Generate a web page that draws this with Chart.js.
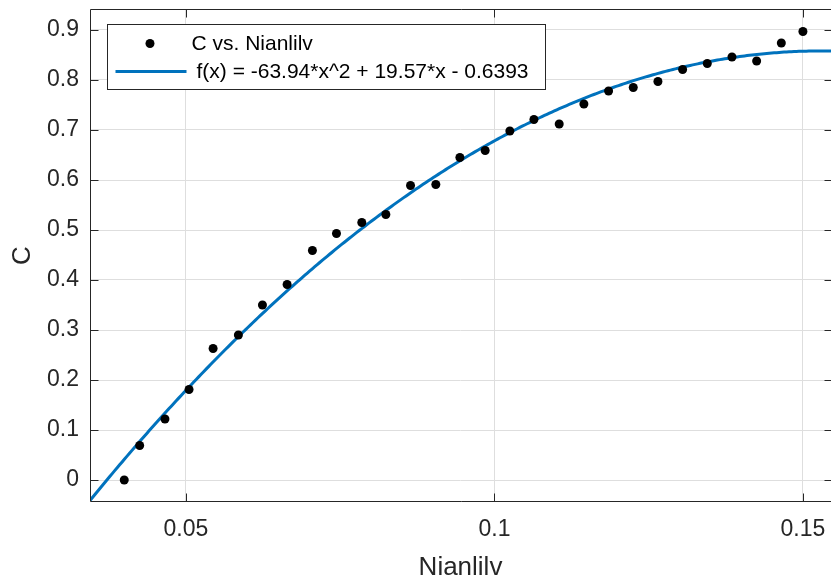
<!DOCTYPE html>
<html>
<head>
<meta charset="utf-8">
<title>C vs. Nianlilv</title>
<script src="https://cdn.jsdelivr.net/npm/chart.js@4/dist/chart.umd.min.js"></script>
<style>
  html, body { margin: 0; padding: 0; background: #fff; }
  #wrap { position: relative; width: 831px; height: 576px; }
</style>
</head>
<body>
<div id="wrap"><canvas id="fit"></canvas></div>
<script>
// measured points
var nianlilv = [0.0400, 0.0425, 0.0466, 0.0505, 0.0544, 0.0585, 0.0624, 0.0664, 0.0705,
                0.0744, 0.0785, 0.0824, 0.0864, 0.0905, 0.0944, 0.0985, 0.1025, 0.1064,
                0.1105, 0.1145, 0.1185, 0.1225, 0.1265, 0.1305, 0.1345, 0.1385, 0.1425,
                0.1465, 0.1500];
var cValues  = [0.000, 0.069, 0.122, 0.181, 0.263, 0.290, 0.350, 0.391, 0.459,
                0.493, 0.515, 0.531, 0.589, 0.591, 0.645, 0.659, 0.698, 0.721,
                0.712, 0.752, 0.778, 0.785, 0.797, 0.821, 0.833, 0.846, 0.838,
                0.874, 0.897];

// quadratic fit coefficients p1*x^2 + p2*x + p3
var fitCoef = [-63.94, 19.57, -0.6393];

// axis limits and ticks
var xLimits = [0.03445, 0.15455];
var yLimits = [-0.044, 0.942];
var xTicks = [0.05, 0.1, 0.15];
var xTickLabels = ['0.05', '0.1', '0.15'];
var yTicks = [0, 0.1, 0.2, 0.3, 0.4, 0.5, 0.6, 0.7, 0.8, 0.9];
var yTickLabels = ['0', '0.1', '0.2', '0.3', '0.4', '0.5', '0.6', '0.7', '0.8', '0.9'];

var pointLabel = 'C vs. Nianlilv';
var fitLabel = 'f(x) = -63.94*x^2 + 19.57*x - 0.6393';

var FONT = '"Liberation Sans", Arial, Helvetica, sans-serif';
var AXIS_COLOR = '#262626';
var BLUE = '#0072bd';

function evalFit(x){
    return fitCoef[0]*x*x + fitCoef[1]*x + fitCoef[2];
}

// sample the fitted curve across the x range
function fitCurve(n){
    var pts = [];
    for (var i = 0; i <= n; i++){
        var x = xLimits[0] + (xLimits[1] - xLimits[0]) * i / n;
        pts.push({x: x, y: evalFit(x)});
    }
    return pts;
}

function pointData(){
    var pts = [];
    for (var i = 0; i < nianlilv.length; i++){
        pts.push({x: nianlilv[i], y: cValues[i]});
    }
    return pts;
}

// no extra room for labels hanging over the plot edges
function noOverhang(scale){
    scale.paddingLeft = 0;
    scale.paddingRight = 0;
    scale.paddingTop = 0;
    scale.paddingBottom = 0;
}

// box around the axes with inward tick marks
var axesBox = {
    id: 'axesBox',
    afterDatasetsDraw: function(chart){
        var ctx = chart.ctx, a = chart.chartArea;
        var xs = chart.scales.x, ys = chart.scales.y;
        var len = 8;
        ctx.save();
        ctx.strokeStyle = AXIS_COLOR;
        ctx.lineWidth = 1;
        ctx.beginPath();
        var L = Math.round(a.left) + 0.5, B = Math.round(a.bottom) - 0.5;
        var T = Math.round(a.top) + 0.5, R = Math.round(a.right) + 1.5;
        ctx.moveTo(L, T); ctx.lineTo(L, B); ctx.lineTo(R, B);
        ctx.moveTo(L, T); ctx.lineTo(R, T);
        xTicks.forEach(function(v){
            var px = Math.round(xs.getPixelForValue(v)) + 0.5;
            ctx.moveTo(px, B); ctx.lineTo(px, B - len);
            ctx.moveTo(px, T); ctx.lineTo(px, T + len);
        });
        yTicks.forEach(function(v){
            var py = Math.round(ys.getPixelForValue(v)) + 0.5;
            ctx.moveTo(L, py); ctx.lineTo(L + len, py);
            ctx.moveTo(R, py); ctx.lineTo(R - len, py);
        });
        ctx.stroke();
        ctx.restore();
    }
};

// legend in the upper left corner of the axes
var legendBox = {
    id: 'legendBox',
    afterDraw: function(chart){
        var ctx = chart.ctx, a = chart.chartArea;
        var ds = chart.data.datasets;
        var x0 = Math.round(a.left) + 17.5, y0 = Math.round(a.top) + 15.5;
        var w = 438, h = 65;
        ctx.save();
        ctx.fillStyle = '#fff';
        ctx.fillRect(x0, y0, w, h);
        ctx.strokeStyle = AXIS_COLOR;
        ctx.lineWidth = 1;
        ctx.strokeRect(x0, y0, w, h);

        ctx.font = '21px ' + FONT;
        ctx.fillStyle = '#000';
        ctx.textBaseline = 'middle';

        // marker row
        ctx.beginPath();
        ctx.arc(x0 + 42.5, y0 + 19, 4.5, 0, Math.PI*2);
        ctx.fillStyle = ds[0].backgroundColor;
        ctx.fill();
        ctx.fillStyle = '#000';
        ctx.fillText(ds[0].label, x0 + 84, y0 + 20);

        // line row
        ctx.beginPath();
        ctx.moveTo(x0 + 8, y0 + 47);
        ctx.lineTo(x0 + 79, y0 + 47);
        ctx.strokeStyle = ds[1].borderColor;
        ctx.lineWidth = ds[1].borderWidth;
        ctx.stroke();
        ctx.fillText(ds[1].label, x0 + 89, y0 + 48);
        ctx.restore();
    }
};

function chart(id){
    var ctx = document.getElementById(id).getContext('2d');
    return new Chart(ctx, {
        type: 'scatter',
        data: {
            datasets: [{
                label: pointLabel,
                data: pointData(),
                backgroundColor: '#000',
                borderColor: '#000',
                pointRadius: 4.5,
                pointBorderWidth: 0,
                showLine: false,
                order: 1
            }, {
                label: fitLabel,
                data: fitCurve(300),
                borderColor: BLUE,
                backgroundColor: BLUE,
                borderWidth: 3,
                pointRadius: 0,
                showLine: true,
                tension: 0,
                order: 2
            }]
        },
        options: {
            responsive: true,
            maintainAspectRatio: false,
            animation: false,
            devicePixelRatio: 1,
            layout: { autoPadding: false, padding: { left: 0, right: 0, top: 9, bottom: 0 } },
            plugins: {
                legend: { display: false },
                tooltip: { enabled: false }
            },
            scales: {
                x: {
                    type: 'linear',
                    min: xLimits[0],
                    max: xLimits[1],
                    afterBuildTicks: function(scale){
                        scale.ticks = xTicks.map(function(v){ return {value: v}; });
                    },
                    afterFit: function(scale){ scale.height = 74; noOverhang(scale); },
                    grid: { color: '#dedede', lineWidth: 1, drawTicks: false },
                    border: { display: false },
                    ticks: {
                        padding: 14,
                        maxRotation: 0,
                        color: AXIS_COLOR,
                        font: { family: FONT, size: 23, lineHeight: 1.2 },
                        callback: function(v, i){ return xTickLabels[i]; }
                    },
                    title: {
                        display: true,
                        text: 'Nianlilv',
                        color: AXIS_COLOR,
                        padding: { top: 0, bottom: -5 },
                        font: { family: FONT, size: 26, lineHeight: 1 }
                    }
                },
                y: {
                    type: 'linear',
                    min: yLimits[0],
                    max: yLimits[1],
                    afterBuildTicks: function(scale){
                        scale.ticks = yTicks.map(function(v){ return {value: v}; });
                    },
                    afterFit: function(scale){ scale.width = 90; noOverhang(scale); },
                    grid: { color: '#dedede', lineWidth: 1, drawTicks: false },
                    border: { display: false },
                    ticks: {
                        padding: 11,
                        color: AXIS_COLOR,
                        font: { family: FONT, size: 23 },
                        callback: function(v, i){ return yTickLabels[i]; }
                    },
                    title: {
                        display: true,
                        text: 'C',
                        color: AXIS_COLOR,
                        padding: { top: 10, bottom: 0 },
                        font: { family: FONT, size: 26, lineHeight: 1 }
                    }
                }
            }
        },
        plugins: [axesBox, legendBox]
    });
}

chart('fit');
</script>
</body>
</html>
